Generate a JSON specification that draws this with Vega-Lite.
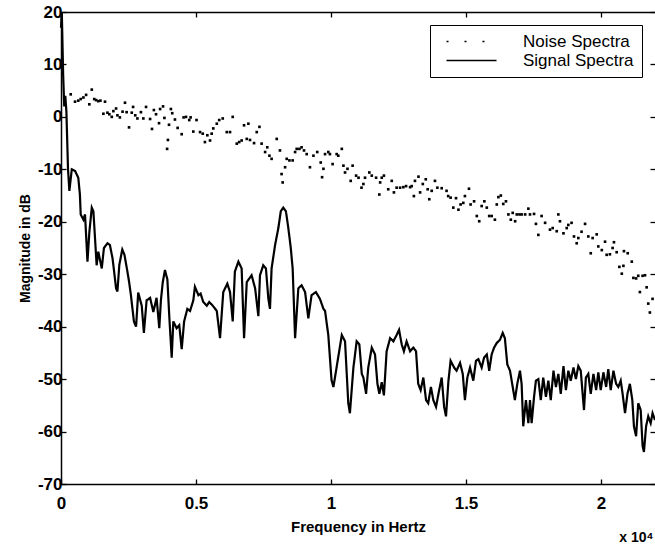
{
  "$schema": "https://vega.github.io/schema/vega-lite/v6.json",
  "width": 594,
  "height": 472,
  "autosize": {"type": "none"},
  "padding": {"left": 61, "top": 12, "right": 0, "bottom": 66},
  "background": "white",
  "config": {
    "view": {"stroke": null},
    "font": "Liberation Sans",
    "axis": {
      "grid": false,
      "domainColor": "black",
      "domainWidth": 1.5,
      "tickColor": "black",
      "tickWidth": 1.3,
      "tickSize": -5,
      "labelColor": "black",
      "labelFont": "Liberation Sans",
      "labelFontSize": 17,
      "labelFontWeight": "bold",
      "titleColor": "black",
      "titleFont": "Liberation Sans",
      "titleFontWeight": "bold"
    }
  },
  "title": {
    "text": "x 10⁴",
    "orient": "bottom",
    "anchor": "end",
    "fontSize": 14,
    "fontWeight": "bold",
    "font": "Liberation Sans",
    "color": "black",
    "offset": -3,
    "dx": -6
  },
  "datasets": {
    "signal": [
      {"f":0,"db":17},{"f":0.003,"db":20},{"f":0.008,"db":8},{"f":0.012,"db":2},{"f":0.016,"db":4},{"f":0.02,"db":1},{"f":0.026,"db":-10},{"f":0.031,"db":-14.1},
      {"f":0.04,"db":-10},{"f":0.052,"db":-10.3},{"f":0.064,"db":-11.6},{"f":0.07,"db":-14.8},{"f":0.073,"db":-18.6},{"f":0.083,"db":-19.6},{"f":0.089,"db":-18.6},{"f":0.098,"db":-27.6},
      {"f":0.105,"db":-22},{"f":0.114,"db":-17.3},{"f":0.12,"db":-18},{"f":0.132,"db":-28.3},{"f":0.138,"db":-25.7},{"f":0.151,"db":-28.9},{"f":0.159,"db":-25},{"f":0.172,"db":-24.1},
      {"f":0.181,"db":-24.4},{"f":0.191,"db":-27},{"f":0.204,"db":-32.7},{"f":0.209,"db":-33.3},{"f":0.216,"db":-28.2},{"f":0.227,"db":-25.3},{"f":0.235,"db":-26.3},{"f":0.246,"db":-29.5},
      {"f":0.252,"db":-31.4},{"f":0.259,"db":-34},{"f":0.27,"db":-39},{"f":0.278,"db":-40},{"f":0.286,"db":-33.5},{"f":0.299,"db":-36},{"f":0.307,"db":-41.2},{"f":0.317,"db":-35},
      {"f":0.33,"db":-34.5},{"f":0.342,"db":-37.2},{"f":0.354,"db":-34.5},{"f":0.364,"db":-40.3},{"f":0.37,"db":-35},{"f":0.377,"db":-31.5},{"f":0.385,"db":-29.2},{"f":0.394,"db":-31},
      {"f":0.401,"db":-38},{"f":0.41,"db":-45.9},{"f":0.416,"db":-39},{"f":0.428,"db":-40.3},{"f":0.438,"db":-39.7},{"f":0.447,"db":-44.3},{"f":0.456,"db":-39},{"f":0.468,"db":-36.6},
      {"f":0.478,"db":-37},{"f":0.49,"db":-35},{"f":0.496,"db":-32.4},{"f":0.509,"db":-34},{"f":0.517,"db":-33.7},{"f":0.527,"db":-35.3},{"f":0.54,"db":-36},{"f":0.549,"db":-35.3},
      {"f":0.562,"db":-36},{"f":0.577,"db":-37},{"f":0.589,"db":-42.2},{"f":0.601,"db":-33.4},{"f":0.616,"db":-31.8},{"f":0.626,"db":-33.4},{"f":0.636,"db":-39},{"f":0.644,"db":-29.5},
      {"f":0.657,"db":-27.6},{"f":0.669,"db":-28.9},{"f":0.678,"db":-42.2},{"f":0.688,"db":-31.5},{"f":0.706,"db":-30.2},{"f":0.719,"db":-32.7},{"f":0.731,"db":-38},{"f":0.737,"db":-30.2},
      {"f":0.749,"db":-28.3},{"f":0.759,"db":-28.9},{"f":0.768,"db":-34.7},{"f":0.774,"db":-36.6},{"f":0.78,"db":-28.9},{"f":0.793,"db":-24.4},{"f":0.805,"db":-21.2},{"f":0.814,"db":-18},
      {"f":0.823,"db":-17.3},{"f":0.833,"db":-18},{"f":0.842,"db":-21.2},{"f":0.851,"db":-25},{"f":0.858,"db":-28.9},{"f":0.867,"db":-42.2},{"f":0.879,"db":-32.7},{"f":0.891,"db":-32.1},
      {"f":0.904,"db":-33.4},{"f":0.916,"db":-38.4},{"f":0.928,"db":-34},{"f":0.944,"db":-33.4},{"f":0.959,"db":-34.7},{"f":0.972,"db":-36.6},{"f":0.978,"db":-37},{"f":0.99,"db":-41.6},
      {"f":1.002,"db":-50.2},{"f":1.009,"db":-51.5},{"f":1.04,"db":-41.6},{"f":1.052,"db":-42.8},{"f":1.064,"db":-54.6},{"f":1.07,"db":-56.5},{"f":1.083,"db":-47.8},{"f":1.095,"db":-42.8},
      {"f":1.105,"db":-43.4},{"f":1.114,"db":-49},{"f":1.12,"db":-49.7},{"f":1.13,"db":-52.8},{"f":1.138,"db":-47.8},{"f":1.151,"db":-44},{"f":1.163,"db":-45.3},{"f":1.172,"db":-50.9},
      {"f":1.179,"db":-52.8},{"f":1.188,"db":-50.6},{"f":1.196,"db":-53.1},{"f":1.206,"db":-44.7},{"f":1.219,"db":-42.2},{"f":1.231,"db":-42.8},{"f":1.243,"db":-41.6},{"f":1.252,"db":-40.6},
      {"f":1.262,"db":-43.4},{"f":1.27,"db":-44.7},{"f":1.28,"db":-42.8},{"f":1.293,"db":-44.7},{"f":1.305,"db":-44},{"f":1.315,"db":-44.7},{"f":1.323,"db":-50.9},{"f":1.332,"db":-52.1},
      {"f":1.342,"db":-49.7},{"f":1.352,"db":-54},{"f":1.36,"db":-54.6},{"f":1.37,"db":-51.5},{"f":1.379,"db":-54},{"f":1.389,"db":-55.3},{"f":1.398,"db":-52.8},{"f":1.41,"db":-49.7},
      {"f":1.419,"db":-55.3},{"f":1.426,"db":-57.1},{"f":1.435,"db":-50.3},{"f":1.443,"db":-46.5},{"f":1.456,"db":-47.8},{"f":1.465,"db":-48.4},{"f":1.478,"db":-46.9},{"f":1.488,"db":-49},
      {"f":1.496,"db":-54},{"f":1.505,"db":-49.7},{"f":1.515,"db":-47.8},{"f":1.527,"db":-50.3},{"f":1.537,"db":-46.5},{"f":1.546,"db":-46.2},{"f":1.558,"db":-47.8},{"f":1.567,"db":-45.9},
      {"f":1.577,"db":-45.3},{"f":1.586,"db":-48.4},{"f":1.595,"db":-45.3},{"f":1.604,"db":-44},{"f":1.614,"db":-43.1},{"f":1.626,"db":-42.5},{"f":1.636,"db":-41.2},{"f":1.644,"db":-42.2},
      {"f":1.653,"db":-47.2},{"f":1.663,"db":-48.4},{"f":1.673,"db":-51.5},{"f":1.681,"db":-54},{"f":1.69,"db":-50.9},{"f":1.7,"db":-48.4},{"f":1.706,"db":-50.9},{"f":1.712,"db":-59},
      {"f":1.722,"db":-54},{"f":1.731,"db":-58.4},{"f":1.737,"db":-54},{"f":1.743,"db":-58.4},{"f":1.752,"db":-53.4},{"f":1.759,"db":-50.3},{"f":1.768,"db":-50},{"f":1.777,"db":-54},
      {"f":1.786,"db":-49.7},{"f":1.796,"db":-53.4},{"f":1.805,"db":-50.3},{"f":1.814,"db":-54},{"f":1.824,"db":-48.4},{"f":1.833,"db":-51.5},{"f":1.842,"db":-49},{"f":1.851,"db":-52.8},
      {"f":1.861,"db":-47.5},{"f":1.87,"db":-52.1},{"f":1.879,"db":-48.4},{"f":1.888,"db":-50.3},{"f":1.898,"db":-47.8},{"f":1.907,"db":-50},{"f":1.916,"db":-47.5},{"f":1.925,"db":-48.4},
      {"f":1.932,"db":-52.8},{"f":1.937,"db":-55.9},{"f":1.944,"db":-49.7},{"f":1.953,"db":-49},{"f":1.962,"db":-52.8},{"f":1.972,"db":-49},{"f":1.982,"db":-52.1},{"f":1.99,"db":-48.7},
      {"f":1.999,"db":-52.1},{"f":2.009,"db":-48.7},{"f":2.019,"db":-51.5},{"f":2.027,"db":-48.1},{"f":2.036,"db":-52.1},{"f":2.046,"db":-48.4},{"f":2.056,"db":-50.9},{"f":2.064,"db":-51.5},
      {"f":2.073,"db":-50.3},{"f":2.08,"db":-52.8},{"f":2.089,"db":-56.5},{"f":2.098,"db":-52.8},{"f":2.107,"db":-50.9},{"f":2.116,"db":-54},{"f":2.122,"db":-59},{"f":2.13,"db":-60.9},
      {"f":2.138,"db":-54.6},{"f":2.147,"db":-55.9},{"f":2.154,"db":-62.7},{"f":2.159,"db":-63.9},{"f":2.167,"db":-59},{"f":2.175,"db":-57.1},{"f":2.184,"db":-58.4},{"f":2.191,"db":-56.5},
      {"f":2.2,"db":-57.8}
    ],
    "noise": [
      {"f":0.036,"db":4.3},{"f":0.052,"db":2.9},{"f":0.064,"db":3.1},{"f":0.073,"db":3.4},{"f":0.083,"db":3.7},{"f":0.093,"db":4.2},{"f":0.105,"db":2.4},{"f":0.114,"db":5.2},
      {"f":0.123,"db":3.4},{"f":0.13,"db":3.2},{"f":0.138,"db":3.0},{"f":0.146,"db":3.1},{"f":0.157,"db":0.6},{"f":0.163,"db":2.9},{"f":0.172,"db":0.8},{"f":0.179,"db":0.5},
      {"f":0.188,"db":0.0},{"f":0.194,"db":1.1},{"f":0.204,"db":1.6},{"f":0.209,"db":0.3},{"f":0.218,"db":-0.1},{"f":0.228,"db":1.0},{"f":0.237,"db":2.7},{"f":0.243,"db":0.9},
      {"f":0.252,"db":-2.0},{"f":0.262,"db":0.8},{"f":0.267,"db":1.9},{"f":0.275,"db":0.3},{"f":0.283,"db":-0.3},{"f":0.296,"db":0.9},{"f":0.305,"db":-0.3},{"f":0.315,"db":1.9},
      {"f":0.33,"db":-0.4},{"f":0.337,"db":-2.3},{"f":0.344,"db":1.3},{"f":0.352,"db":0.5},{"f":0.363,"db":-1.2},{"f":0.367,"db":1.5},{"f":0.378,"db":2.0},{"f":0.383,"db":-0.2},
      {"f":0.393,"db":-6.1},{"f":0.396,"db":-4.4},{"f":0.4,"db":-1.5},{"f":0.407,"db":1.5},{"f":0.412,"db":0.7},{"f":0.422,"db":-0.5},{"f":0.432,"db":-2.1},{"f":0.447,"db":-3.3},
      {"f":0.454,"db":-0.1},{"f":0.463,"db":0.0},{"f":0.475,"db":-0.6},{"f":0.48,"db":-0.1},{"f":0.49,"db":-2.8},{"f":0.502,"db":-0.6},{"f":0.515,"db":-2.9},{"f":0.525,"db":-3.2},
      {"f":0.533,"db":-4.8},{"f":0.542,"db":-3.5},{"f":0.552,"db":-4.5},{"f":0.558,"db":-3.2},{"f":0.564,"db":-2.2},{"f":0.577,"db":-1.3},{"f":0.586,"db":-0.6},{"f":0.599,"db":-0.3},
      {"f":0.614,"db":-2.9},{"f":0.626,"db":-2.9},{"f":0.636,"db":0},{"f":0.651,"db":-5.1},{"f":0.66,"db":-4.8},{"f":0.669,"db":-4.5},{"f":0.678,"db":-1.6},{"f":0.688,"db":-4.2},
      {"f":0.694,"db":-1.3},{"f":0.7,"db":-4.4},{"f":0.715,"db":-5},{"f":0.725,"db":-2.9},{"f":0.735,"db":-1.9},{"f":0.743,"db":-5.1},{"f":0.756,"db":-6.7},{"f":0.764,"db":-5.8},
      {"f":0.772,"db":-7.4},{"f":0.78,"db":-8.0},{"f":0.799,"db":-4.2},{"f":0.811,"db":-6.4},{"f":0.817,"db":-10.9},{"f":0.821,"db":-12.5},{"f":0.83,"db":-9.6},{"f":0.836,"db":-8.0},
      {"f":0.846,"db":-8.3},{"f":0.858,"db":-8.3},{"f":0.867,"db":-6.7},{"f":0.873,"db":-6.1},{"f":0.883,"db":-6.1},{"f":0.891,"db":-5.8},{"f":0.9,"db":-6.4},{"f":0.91,"db":-7.1},
      {"f":0.922,"db":-9.6},{"f":0.935,"db":-7.4},{"f":0.949,"db":-6.7},{"f":0.962,"db":-8.7},{"f":0.967,"db":-11.5},{"f":0.972,"db":-9.9},{"f":0.978,"db":-7.1},{"f":0.99,"db":-6.7},
      {"f":0.996,"db":-7.1},{"f":1.006,"db":-9.0},{"f":1.021,"db":-7.1},{"f":1.027,"db":-7.4},{"f":1.04,"db":-6.1},{"f":1.046,"db":-9.3},{"f":1.052,"db":-10.6},{"f":1.061,"db":-9.9},
      {"f":1.073,"db":-12.2},{"f":1.08,"db":-9.3},{"f":1.093,"db":-11.2},{"f":1.102,"db":-11.6},{"f":1.113,"db":-13.5},{"f":1.12,"db":-12.8},{"f":1.126,"db":-11.6},{"f":1.142,"db":-10.6},
      {"f":1.151,"db":-11.2},{"f":1.167,"db":-11.6},{"f":1.179,"db":-14.8},{"f":1.182,"db":-12.5},{"f":1.188,"db":-11.6},{"f":1.196,"db":-11.2},{"f":1.212,"db":-13.8},{"f":1.225,"db":-12.2},
      {"f":1.233,"db":-14.4},{"f":1.243,"db":-13.5},{"f":1.256,"db":-13.5},{"f":1.268,"db":-13.4},{"f":1.278,"db":-13.2},{"f":1.293,"db":-13.4},{"f":1.299,"db":-13.2},{"f":1.307,"db":-15.1},
      {"f":1.311,"db":-12.2},{"f":1.324,"db":-11.4},{"f":1.33,"db":-14.4},{"f":1.34,"db":-12.8},{"f":1.351,"db":-11.9},{"f":1.358,"db":-13.8},{"f":1.364,"db":-15.7},{"f":1.373,"db":-14.1},
      {"f":1.385,"db":-12.2},{"f":1.394,"db":-13.5},{"f":1.41,"db":-13.6},{"f":1.428,"db":-14.1},{"f":1.434,"db":-15.1},{"f":1.443,"db":-15.4},{"f":1.453,"db":-17.3},{"f":1.463,"db":-15.5},
      {"f":1.472,"db":-17.7},{"f":1.48,"db":-16.7},{"f":1.49,"db":-16.4},{"f":1.496,"db":-15.1},{"f":1.511,"db":-13.7},{"f":1.517,"db":-16.7},{"f":1.53,"db":-16.1},{"f":1.54,"db":-18.9},
      {"f":1.549,"db":-19.9},{"f":1.558,"db":-17.0},{"f":1.568,"db":-16.1},{"f":1.577,"db":-17.3},{"f":1.586,"db":-18.9},{"f":1.595,"db":-18.9},{"f":1.607,"db":-19.6},{"f":1.614,"db":-16.7},
      {"f":1.62,"db":-15.3},{"f":1.629,"db":-15.0},{"f":1.638,"db":-16.6},{"f":1.648,"db":-16.1},{"f":1.657,"db":-18.6},{"f":1.666,"db":-19.6},{"f":1.673,"db":-18.3},{"f":1.682,"db":-19.9},
      {"f":1.688,"db":-18.6},{"f":1.698,"db":-18.6},{"f":1.706,"db":-18.6},{"f":1.719,"db":-18.6},{"f":1.731,"db":-17.5},{"f":1.737,"db":-18.6},{"f":1.752,"db":-18.5},{"f":1.759,"db":-20.4},
      {"f":1.768,"db":-22.5},{"f":1.78,"db":-18.9},{"f":1.793,"db":-20.2},{"f":1.811,"db":-21.5},{"f":1.821,"db":-21.2},{"f":1.836,"db":-21.8},{"f":1.842,"db":-18.6},{"f":1.848,"db":-19.9},
      {"f":1.861,"db":-22.2},{"f":1.873,"db":-21.2},{"f":1.879,"db":-20.6},{"f":1.891,"db":-20.2},{"f":1.9,"db":-22.8},{"f":1.91,"db":-24.1},{"f":1.916,"db":-23.1},{"f":1.928,"db":-21.9},
      {"f":1.941,"db":-20.4},{"f":1.953,"db":-22.8},{"f":1.962,"db":-26.0},{"f":1.969,"db":-23.1},{"f":1.984,"db":-22.4},{"f":1.99,"db":-24.7},{"f":2.003,"db":-25.4},{"f":2.015,"db":-23.8},
      {"f":2.021,"db":-26.3},{"f":2.033,"db":-26.2},{"f":2.043,"db":-25.0},{"f":2.048,"db":-23.9},{"f":2.058,"db":-25.8},{"f":2.068,"db":-28.6},{"f":2.077,"db":-29.9},{"f":2.083,"db":-28.4},
      {"f":2.085,"db":-25.6},{"f":2.099,"db":-26.0},{"f":2.114,"db":-27.6},{"f":2.12,"db":-30.7},{"f":2.13,"db":-30.8},{"f":2.138,"db":-30.3},{"f":2.144,"db":-33.4},{"f":2.154,"db":-30.3},
      {"f":2.163,"db":-30.2},{"f":2.169,"db":-32.5},{"f":2.175,"db":-35.6},{"f":2.181,"db":-37.3},{"f":2.191,"db":-34.7}
    ]
  },
  "layer": [
    {
      "data": {"name": "signal"},
      "mark": {"type": "line", "color": "black", "strokeWidth": 2.2},
      "encoding": {
        "x": {
          "field": "f", "type": "quantitative",
          "scale": {"domain": [0, 2.2], "nice": false, "zero": false},
          "axis": {"orient": "bottom", "values": [0, 0.5, 1, 1.5, 2], "format": "~g", "title": "Frequency in Hertz", "titleFontSize": 15, "labelPadding": 16, "titlePadding": 8, "labelFlush": false}
        },
        "y": {
          "field": "db", "type": "quantitative",
          "scale": {"domain": [-70, 20], "nice": false, "zero": false},
          "axis": {"orient": "left", "values": [-70, -60, -50, -40, -30, -20, -10, 0, 10, 20], "labelExpr": "'' + datum.value", "title": "Magnitude in dB", "titleFontSize": 14, "labelPadding": 4, "titlePadding": 5, "labelFlush": false}
        },
        "strokeDash": {
          "datum": "Signal Spectra", "type": "nominal",
          "scale": {"domain": ["Noise Spectra", "Signal Spectra"], "range": [[2, 16], [1, 0]]},
          "legend": {
            "title": null,
            "orient": "top-right",
            "offset": 13,
            "strokeColor": "black",
            "fillColor": "white",
            "padding": 8,
            "cornerRadius": 0,
            "labelFont": "Liberation Sans",
            "labelFontSize": 17,
            "labelColor": "black",
            "symbolType": "M0,0H10",
            "symbolSize": 100,
            "symbolStrokeWidth": 1.5,
            "symbolStrokeColor": "black",
            "labelOffset": 68,
            "rowPadding": 1
          }
        }
      }
    },
    {
      "data": {"name": "noise"},
      "mark": {"type": "square", "filled": true, "color": "black", "size": 7, "opacity": 1},
      "encoding": {
        "x": {
          "field": "f", "type": "quantitative",
          "scale": {"domain": [0, 2.2], "nice": false, "zero": false},
          "axis": {"orient": "top", "values": [0, 0.5, 1, 1.5, 2], "labels": false, "title": null}
        },
        "y": {
          "field": "db", "type": "quantitative",
          "scale": {"domain": [-70, 20], "nice": false, "zero": false},
          "axis": {"orient": "right", "values": [-70, -60, -50, -40, -30, -20, -10, 0, 10, 20], "labels": false, "title": null, "domain": false}
        }
      }
    }
  ],
  "resolve": {"axis": {"x": "independent", "y": "independent"}}
}
